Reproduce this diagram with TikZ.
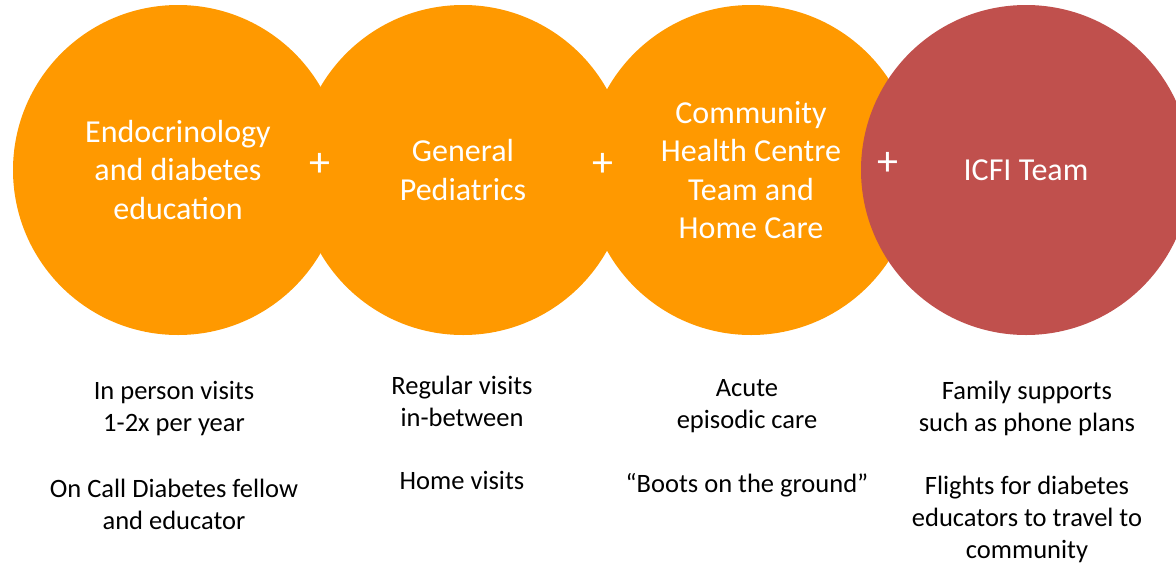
\documentclass[tikz,border=0pt]{standalone}
\usepackage{fontspec}
\setmainfont{Carlito}
\usetikzlibrary{positioning}
\definecolor{slideorange}{HTML}{FF9900}
\definecolor{slidered}{HTML}{C0504D}

\begin{document}
\begin{tikzpicture}[x=1pt,y=-1pt,
  bubble/.style={circle,minimum size=330pt,inner sep=0pt,text=white,align=center,font=\fontsize{32}{38.5}\selectfont},
  plussign/.style={text=white,inner sep=0pt,font=\fontsize{42}{42}\selectfont},
  notetext/.style={align=center,text=black,inner sep=0pt,font=\fontsize{26.5}{32}\selectfont}]
\useasboundingbox (0,0) rectangle (1176,563);
\clip (0,0) rectangle (1176,563);

\node[bubble,fill=slideorange] (endo) at (178,170) {Endocrinology\\and diabetes\\education};
\node[bubble,fill=slideorange] (peds) at (463,170) {General\\Pediatrics};
\node[bubble,fill=slideorange] (chc) at (751,170) {Community\\Health Centre\\Team and\\Home Care};
\node[bubble,fill=slidered] (icfi) at (1026,170) {ICFI Team};

\node[plussign] (p1) at (320,165) {+};
\node[plussign] (p2) at (603,165) {+};
\node[plussign] (p3) at (888,164) {+};

\node[notetext] (endoA) at (174,409) {In person visits\\1-2x per year};
\node[notetext] (endoB) at (174,504) {On Call Diabetes fellow\\and educator};
\node[notetext] (pedsA) at (462,401) {Regular visits\\in-between};
\node[notetext] (pedsB) at (462,480) {Home visits};
\node[notetext] (chcA) at (747,406) {Acute\\episodic care};
\node[notetext] (chcB) at (747,485) {``Boots on the ground''};
\node[notetext] (icfiA) at (1027,408.5) {Family supports\\such as phone plans};
\node[notetext] (icfiB) at (1027,519) {Flights for diabetes\\educators to travel to\\community};

\end{tikzpicture}
\end{document}
